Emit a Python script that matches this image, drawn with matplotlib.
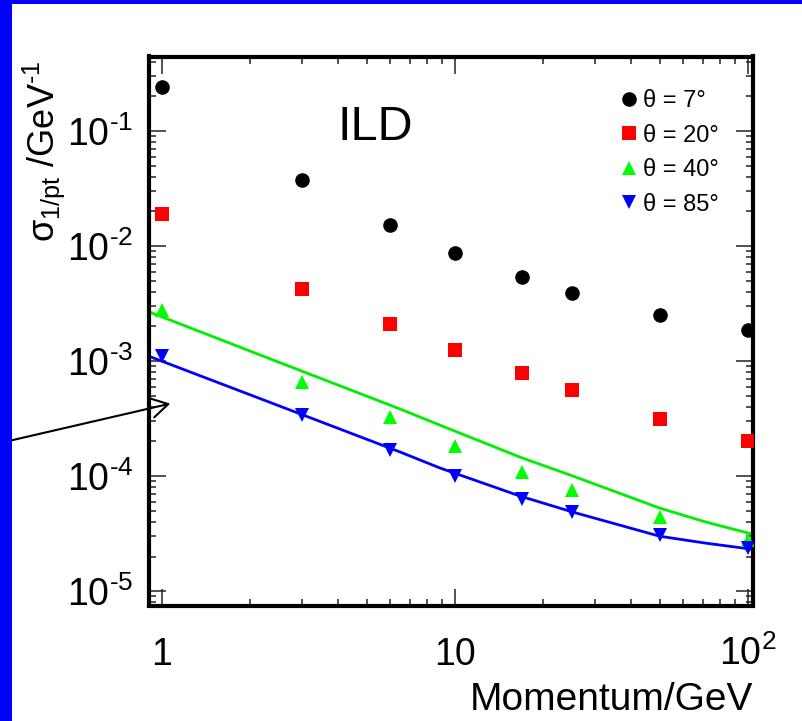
import numpy as np
import matplotlib
matplotlib.use("Agg")
import matplotlib.pyplot as plt
from matplotlib.patches import Rectangle, FancyArrowPatch
from matplotlib.ticker import LogLocator, NullFormatter

plt.rcParams['font.family'] = ['Liberation Sans', 'DejaVu Sans']
plt.rcParams['mathtext.fontset'] = 'custom'
plt.rcParams['mathtext.rm'] = 'Liberation Sans'
plt.rcParams['mathtext.it'] = 'Liberation Sans:italic'
plt.rcParams['mathtext.default'] = 'regular'

# measured points
momentum = [1, 3, 6, 10, 17, 25, 50, 100]
sigma_7 = [0.241, 0.0375, 0.0152, 0.0087, 0.0054, 0.0039, 0.0025, 0.00186]
sigma_20 = [0.0190, 0.00423, 0.0021, 0.00125, 0.00079, 0.00056, 0.000313, 0.000201]
sigma_40 = [0.00277, 0.000657, 0.000326, 0.000182, 0.000108, 7.6e-5, 4.4e-5, 2.77e-5]
sigma_85 = [0.0011, 0.000339, 0.000168, 1.0e-4, 6.3e-5, 4.86e-5, 3.07e-5, 2.37e-5]

# fit curves
fit_p = [0.88, 2.5, 6.5, 8.9, 16.7, 25.3, 50, 72, 105]
fit_40 = [2.75e-3, 9.8e-4, 3.83e-4, 2.77e-4, 1.46e-4, 1.0e-4, 5.27e-5, 3.98e-5, 3.1e-5]
fit_85 = [1.13e-3, 4.1e-4, 1.62e-4, 1.175e-4, 6.7e-5, 4.86e-5, 3.0e-5, 2.61e-5, 2.3e-5]

labels = ['θ = 7°', 'θ = 20°', 'θ = 40°', 'θ = 85°']
x_ticks = [1, 10, 100]
x_tick_labels = ['1', '10', r'$10^{2}$']
y_ticks = [1e-5, 1e-4, 1e-3, 1e-2, 1e-1]
y_tick_labels = [r'$10^{\text{-}5}$', r'$10^{\text{-}4}$', r'$10^{\text{-}3}$',
                 r'$10^{\text{-}2}$', r'$10^{\text{-}1}$']

W, H = 802, 721
fig = plt.figure(figsize=(W / 100, H / 100), dpi=100)
ax = fig.add_axes([148.5 / W, 1 - 605.5 / H, (753 - 148.5) / W, (605.5 - 56.5) / H])

ax.set_xscale('log')
ax.set_yscale('log')
ax.set_xlim(0.9, 104)
ax.set_ylim(7.5e-6, 0.445)

ax.plot(fit_p, fit_40, color='#00ee00', lw=2, zorder=2)
ax.plot(fit_p, fit_85, color='#0000ff', lw=2, zorder=2)

ms = 10.5
ax.plot(momentum, sigma_7, 'o', color='black', ms=ms, mew=0, label=labels[0], zorder=3)
ax.plot(momentum, sigma_20, 's', color='#ff0000', ms=ms, mew=0, label=labels[1], zorder=3)
ax.plot(momentum, sigma_40, '^', color='#00ff00', ms=ms, mew=0, label=labels[2], zorder=3)
ax.plot(momentum, sigma_85, 'v', color='#0000ff', ms=ms, mew=0, label=labels[3], zorder=3)

for s in ax.spines.values():
    s.set_linewidth(3)

ax.set_xticks(x_ticks, labels=x_tick_labels)
ax.set_yticks(y_ticks, labels=y_tick_labels)
ax.xaxis.set_minor_locator(LogLocator(base=10, subs=np.arange(2, 10), numticks=100))
ax.yaxis.set_minor_locator(LogLocator(base=10, subs=np.arange(2, 10), numticks=100))
ax.xaxis.set_minor_formatter(NullFormatter())
ax.yaxis.set_minor_formatter(NullFormatter())
ax.tick_params(which='both', direction='in', top=True, right=True, width=1.1, color='#222222')
ax.tick_params(which='major', length=12)
ax.tick_params(which='minor', length=5)
ax.tick_params(axis='y', which='major', labelsize=27, pad=11)
ax.tick_params(axis='x', which='major', labelsize=27)
for t in ax.xaxis.get_major_ticks():
    t.label1.set_va('baseline')
ax.tick_params(axis='x', which='major', pad=43)

ax.set_xlabel('Momentum/GeV', fontsize=28, loc='right', labelpad=6)
ax.set_ylabel(r'σ$_{1/pt}$ /GeV$^{\text{-}1}$', fontsize=26, loc='top')
ax.yaxis.set_label_coords(-0.135, 0.993)

fig.text(338 / W, 1 - 140 / H, 'ILD', fontsize=35, ha='left', va='baseline')

ax.legend(loc='upper left', bbox_to_anchor=(621 / W, 1 - 90 / H),
          bbox_transform=fig.transFigure, frameon=False, fontsize=17,
          handlelength=0.7, handletextpad=0.25, labelspacing=0.53,
          borderpad=0, borderaxespad=0, numpoints=1)

arrow = FancyArrowPatch((0, 1 - 443 / H), (173 / W, 1 - 403 / H),
                        transform=fig.transFigure, arrowstyle='->,head_length=0.6,head_width=0.35',
                        mutation_scale=20, lw=1.5, color='black', zorder=5)
fig.add_artist(arrow)

fig.add_artist(Rectangle((0, 0), 12 / W, 1, transform=fig.transFigure,
                         color='#0000ff', lw=0, zorder=10))
fig.add_artist(Rectangle((0, 1 - 4 / H), 1, 4 / H, transform=fig.transFigure,
                         color='#0000ff', lw=0, zorder=10))

fig.savefig('out.png', dpi=100)
